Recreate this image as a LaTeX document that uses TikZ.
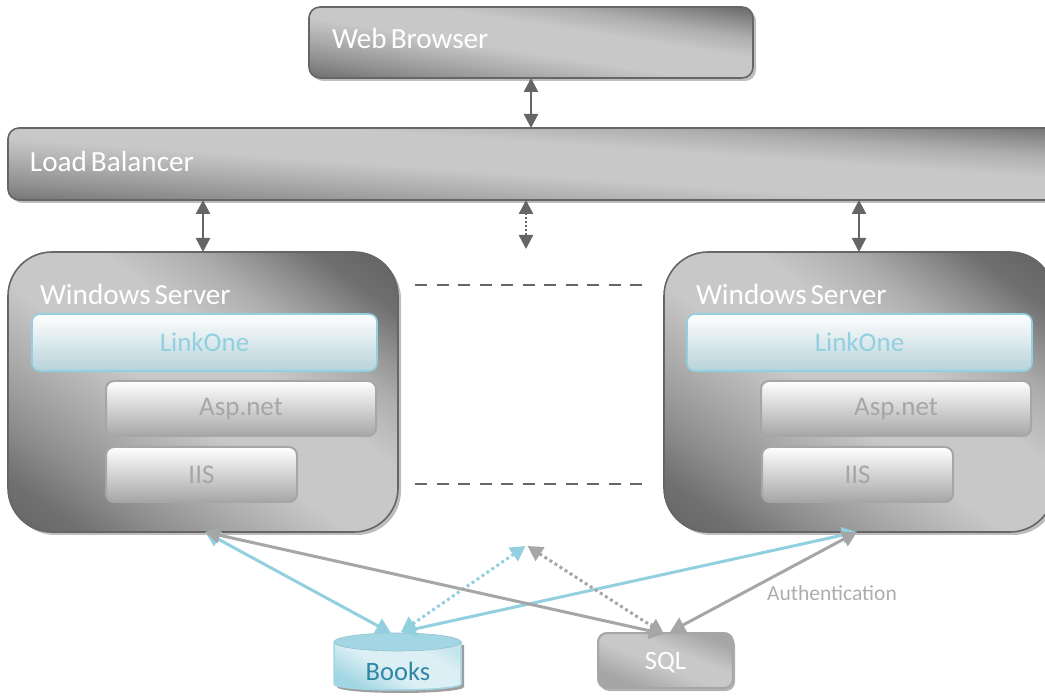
\documentclass[tikz,border=0pt]{standalone}
\usepackage{fontspec}
\setmainfont{Carlito}[WordSpace=0.6]
\usetikzlibrary{arrows.meta,shadows}
\definecolor{gdark}{HTML}{666666}
\definecolor{gd2}{HTML}{707070}
\definecolor{gd25}{HTML}{8E8E8E}
\definecolor{gd3}{HTML}{AEAEAE}
\definecolor{glight}{HTML}{C8C8C8}
\definecolor{gmid}{HTML}{A6A6A6}
\definecolor{tealc}{HTML}{92D0E0}
\definecolor{tealtext}{HTML}{2F87A5}
\definecolor{tealbody}{HTML}{DCEFF4}
\definecolor{tealedge}{HTML}{A3D6E4}
\definecolor{tealtop}{HTML}{C4E4EC}
\definecolor{HBlue}{HTML}{B8D2DA}
\pgfdeclarehorizontalshading{darkdiag}{100bp}{color(0bp)=(gdark);color(16bp)=(gdark);color(22bp)=(gd2);color(29bp)=(gd25);color(38bp)=(gd3);color(46bp)=(glight);color(58bp)=(glight);color(66bp)=(gd3);color(72bp)=(gd25);color(77bp)=(gd2);color(82bp)=(gdark);color(100bp)=(gdark)}
\pgfdeclarehorizontalshading{sqldiag}{100bp}{color(0bp)=(gmid);color(28bp)=(gmid);color(46bp)=(glight);color(58bp)=(glight);color(74bp)=(gmid);color(100bp)=(gmid)}
\pgfdeclarehorizontalshading{tealdiag}{100bp}{color(0bp)=(tealedge);color(26bp)=(tealedge);color(45bp)=(tealbody);color(66bp)=(tealbody);color(78bp)=(tealtop);color(100bp)=(tealtop)}
\tikzset{
  x=1pt,y=-1pt,
  every node/.style={inner sep=0pt,outer sep=0pt},
  bigbox/.style={anchor=north west,draw=gdark,line width=1.6pt,shading=darkdiag,
    copy shadow={shadow xshift=3pt,shadow yshift=-3pt,draw=none,fill=black!26}},
  titletext/.style={anchor=west,text=white,font=\fontsize{29.2}{32}\selectfont},
  linkbox/.style={anchor=north west,draw=tealc,line width=1.6pt,rounded corners=8pt,top color=white,bottom color=HBlue,
     font=\fontsize{27}{30}\selectfont,text=tealc},
  softbox/.style={anchor=north west,draw=gmid,line width=2pt,rounded corners=8pt,top color=white,bottom color=gmid,
     font=\fontsize{27}{30}\selectfont,text=gmid},
  darkarrow/.style={draw=gdark,line width=2.4pt,{Triangle[length=14pt,width=14pt]}-{Triangle[length=14pt,width=14pt]}},
  tealarrow/.style={draw=tealc,line width=3pt,{Triangle[length=15pt,width=16pt]}-{Triangle[length=15pt,width=16pt]}},
  grayarrow/.style={draw=gmid,line width=3pt,{Triangle[length=15pt,width=16pt]}-{Triangle[length=15pt,width=16pt]}},
  dotline/.style={dash pattern=on 3pt off 3pt},
  dashline/.style={draw=gdark,line width=2pt,dash pattern=on 12pt off 9.5pt},
}
\begin{document}
\begin{tikzpicture}
\useasboundingbox (0,0) rectangle (1045,700);
\clip (0,0) rectangle (1045,700);
% main boxes
\node[bigbox,shading angle=81,rounded corners=11pt,minimum width=444pt,minimum height=71pt] (web) at (309,7) {};
\node[titletext] (webt) at (332,38) {Web Browser};
\node[bigbox,shading angle=86,rounded corners=11pt,minimum width=1060pt,minimum height=72pt] (lb) at (8,128) {};
\node[titletext] (lbt) at (30,161) {Load Balancer};
\node[bigbox,shading angle=54,rounded corners=44pt,minimum width=390pt,minimum height=280pt] (srvL) at (8,252) {};
\node[titletext] (srvLt) at (40,294) {Windows Server};
\node[bigbox,shading angle=54,rounded corners=44pt,minimum width=390pt,minimum height=280pt] (srvR) at (664,252) {};
\node[titletext] (srvRt) at (696,294) {Windows Server};
% inner left
\node[linkbox,minimum width=345pt,minimum height=57pt] (linkL) at (32,314) {LinkOne};
\node[softbox,text height=18pt,text depth=3pt,minimum width=270pt,minimum height=55pt] (aspL) at (106,381) {Asp.net};
\node[softbox,minimum width=191pt,minimum height=55pt] (iisL) at (106,447) {IIS};
% inner right
\node[linkbox,minimum width=345pt,minimum height=57pt] (linkR) at (687,314) {LinkOne};
\node[softbox,text height=18pt,text depth=3pt,minimum width=270pt,minimum height=55pt] (aspR) at (761,381) {Asp.net};
\node[softbox,minimum width=191pt,minimum height=55pt] (iisR) at (762,447) {IIS};
% books cylinder
\fill[black!38] (337,645) -- (337,687) arc[start angle=180,end angle=360,x radius=63.5pt,y radius=6pt] -- (464,645) -- cycle;
\path[shading=tealdiag,shading angle=60,draw=tealedge,line width=1.5pt]
  (334,642) -- (334,684) arc[start angle=180,end angle=360,x radius=63.5pt,y radius=6pt] -- (461,642) -- cycle;
\path[fill=tealedge,draw=tealedge!90!black,line width=.6pt] (397.5,642) ellipse[x radius=63.5pt,y radius=9pt];
\node[text=tealtext,font=\fontsize{26.5}{29}\selectfont] (books) at (398,671) {Books};
% sql
\node[anchor=north west,draw=gmid,line width=2pt,rounded corners=9pt,shading=sqldiag,shading angle=68,
  minimum width=135pt,minimum height=55pt,text=white,font=\fontsize{26.5}{29}\selectfont,text height=18pt,text depth=0pt,
  copy shadow={shadow xshift=2pt,shadow yshift=-3pt,draw=none,fill=black!30}] (sql) at (598,633) {SQL};
\node[text=black!32,font=\fontsize{21.5}{24}\selectfont] (auth) at (832,593) {Authentication};
% free ends
\coordinate (midT) at (526,200);
\coordinate (midB) at (526,249);
\coordinate (d1a) at (415,285);
\coordinate (d1b) at (642,285);
\coordinate (d2a) at (415,484);
\coordinate (d2b) at (642,484);
\coordinate (srvLb) at (205,532);
\coordinate (srvRb) at (857,532);
\coordinate (booksA) at (391,633);
\coordinate (booksB) at (401,632);
\coordinate (sqlA) at (664,634);
\coordinate (sqlB) at (670,632);
\coordinate (dotT) at (525.5,546);
\coordinate (dotG) at (527.5,546);
% connectors
\draw[darkarrow] (web.south) -- (web.south |- lb.north);
\draw[darkarrow] (srvL.north |- lb.south) -- (srvL.north);
\draw[darkarrow] (srvR.north |- lb.south) -- (srvR.north);
\draw[darkarrow,dash pattern=on 2pt off 2pt] (midT) -- (midB);
\draw[dashline] (d1a) -- (d1b);
\draw[dashline] (d2a) -- (d2b);
\draw[tealarrow] (srvLb) -- (booksA);
\draw[tealarrow] (srvRb) -- (booksB);
\draw[tealarrow,dotline] (dotT) -- (booksB);
\draw[grayarrow,dotline] (dotG) -- (sqlA);
\draw[grayarrow] (srvLb) -- (sqlA);
\draw[grayarrow] (srvRb) -- (sqlB);
\end{tikzpicture}
\end{document}
